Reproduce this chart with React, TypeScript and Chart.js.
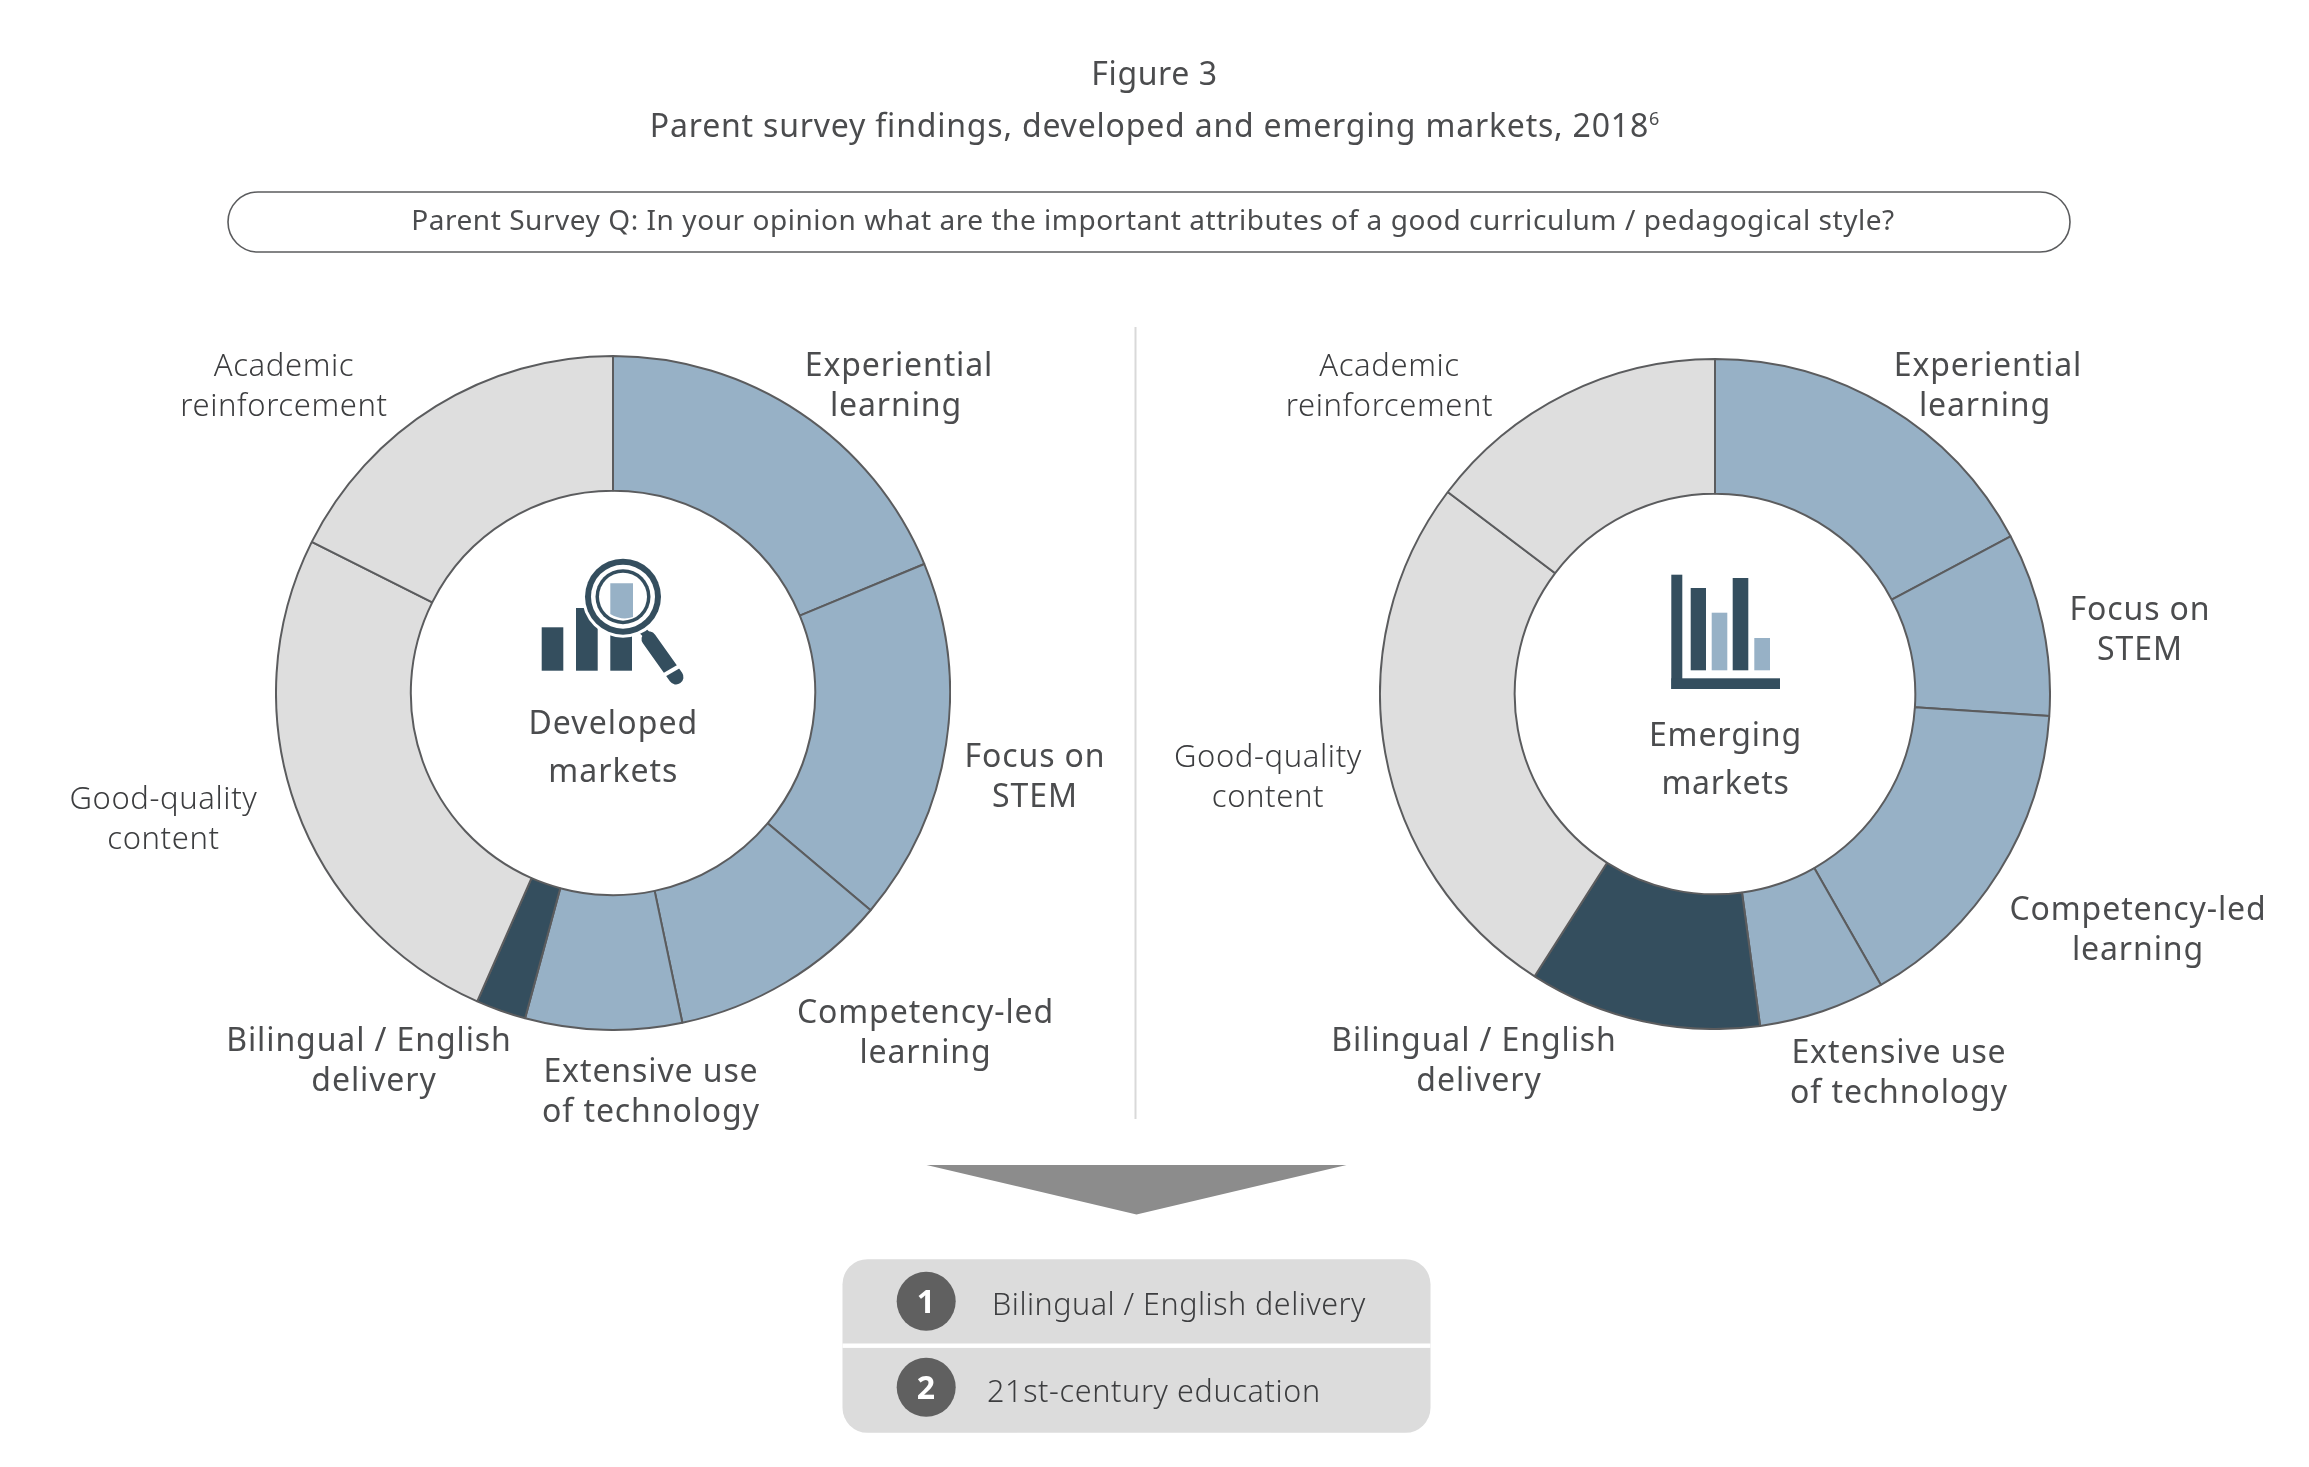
import React, { useEffect, useRef } from "react";
import { Chart, registerables } from "chart.js";

Chart.register(...registerables);

const categories = [
  "Experiential learning",
  "Focus on STEM",
  "Competency-led learning",
  "Extensive use of technology",
  "Bilingual / English delivery",
  "Good-quality content",
  "Academic reinforcement",
];
const developedValues = [18.75, 17.4, 10.55, 7.5, 2.4, 25.8, 17.6];
const emergingValues = [17.2, 8.85, 15.7, 6.1, 11.2, 26.25, 14.7];
const segmentColors = ["#97b1c6", "#97b1c6", "#97b1c6", "#97b1c6", "#344e5e", "#dedede", "#dedede"];

const categoryLines = [
  ["Experiential", "learning"],
  ["Focus on", "STEM"],
  ["Competency-led", "learning"],
  ["Extensive use", "of technology"],
  ["Bilingual / English", "delivery"],
  ["Good-quality", "content"],
  ["Academic", "reinforcement"],
];
const lightCategories = [5, 6];
// label anchor [centre x, first baseline, x shift of the second line]
const developedLabelPos = [
  [899, 375.5, -3], [1035, 766.5, 0], [925.5, 1023, 0], [651, 1082, 0], [369, 1051, 5], [163.5, 809, 0], [284, 375.5, 0],
];
const emergingLabelPos = [
  [1988, 375.5, -3], [2140, 620, 0], [2138, 919.5, 0], [1899, 1062.5, 0], [1474, 1051, 5], [1268, 766.5, 0], [1389.5, 375.5, 0],
];

const INK = "#4b4c4e";
const LIGHT_INK = "#3c3d3f";
const DARK = "#344e5e";
const BLUE = "#97b1c6";
const FONT = "'Noto Sans', 'Open Sans', sans-serif";

function Donut({ values, cx, cy, r, cutout }: { values: number[]; cx: number; cy: number; r: number; cutout: string }) {
  const ref = useRef<HTMLCanvasElement>(null);
  useEffect(() => {
    const chart = new Chart(ref.current!, {
      type: "doughnut",
      data: {
        labels: categories,
        datasets: [{ data: values, backgroundColor: segmentColors, borderColor: "#5b5c5e", borderWidth: 2 }],
      },
      options: {
        animation: false,
        responsive: false,
        cutout,
        rotation: 0,
        plugins: { legend: { display: false }, tooltip: { enabled: false } },
      },
    });
    return () => chart.destroy();
  }, []);
  const size = 2 * r + 2;
  return (
    <canvas
      ref={ref}
      width={size}
      height={size}
      style={{ position: "absolute", left: cx - r - 1, top: cy - r - 1, width: size, height: size }}
    />
  );
}

function Label({ x, y, children, size = 32, weight = 400, ls = 0.6, fill = INK, anchor = "middle" }: any) {
  return (
    <text x={x} y={y} fontSize={size} fontWeight={weight} letterSpacing={ls} fill={fill} textAnchor={anchor} fontFamily={FONT}>
      {children}
    </text>
  );
}

function CategoryLabels({ pos }: { pos: number[][] }) {
  return (
    <>
      {categoryLines.map((lines, i) =>
        lines.map((t, j) => {
          const light = lightCategories.includes(i);
          return (
            <Label
              key={`${i}-${j}`}
              x={pos[i][0] + j * pos[i][2]}
              y={pos[i][1] + j * 40}
              size={light ? 31 : 32}
              ls={light ? 0.6 : 0.9}
              weight={light ? 300 : 400}
              fill={light ? LIGHT_INK : INK}
            >
              {t}
            </Label>
          );
        })
      )}
    </>
  );
}

export default function App() {
  return (
    <div style={{ position: "absolute", left: 0, top: 0, width: 2309, height: 1467, background: "#fff", overflow: "hidden" }}>
      <Donut values={developedValues} cx={613} cy={693} r={337} cutout="60%" />
      <Donut values={emergingValues} cx={1715} cy={694} r={335} cutout="59.8%" />
      <svg width={2309} height={1467} style={{ position: "absolute", left: 0, top: 0 }}>
        <Label x={1154.5} y={85} size={32}>Figure 3</Label>
        <Label x={1155} y={137} size={32} ls={0.8}>
          Parent survey findings, developed and emerging markets, 2018
          <tspan fontSize={18} dy={-12}>6</tspan>
        </Label>
        <rect x={228} y={192} width={1842} height={60} rx={30} fill="#fff" stroke="#5b5c5e" strokeWidth={1.6} />
        <Label x={1153} y={230} size={28} ls={0.55}>
          Parent Survey Q: In your opinion what are the important attributes of a good curriculum / pedagogical style?
        </Label>
        <line x1={1135.5} y1={327} x2={1135.5} y2={1119} stroke="#d9d9d9" strokeWidth={2} />

        <CategoryLabels pos={developedLabelPos} />
        <CategoryLabels pos={emergingLabelPos} />

        {/* developed icon */}
        <g>
          <rect x={541.7} y={627.3} width={21.6} height={43.4} fill={DARK} />
          <rect x={576} y={608} width={21.7} height={62.7} fill={DARK} />
          <rect x={610.3} y={627.3} width={21.7} height={43.4} fill={DARK} />
          <line x1={638} y1={626} x2={650} y2={638} stroke={DARK} strokeWidth={8} />
          <line x1={649} y1={639} x2={676} y2={677} stroke={DARK} strokeWidth={15} strokeLinecap="round" />
          <line x1={664} y1={675} x2={683} y2={664} stroke="#fff" strokeWidth={4} />
          <circle cx={623} cy={596.7} r={41} fill="#fff" />
          <circle cx={623} cy={596.7} r={38} fill={DARK} />
          <circle cx={623} cy={596.7} r={32} fill="#fff" />
          <circle cx={623} cy={596.7} r={27.5} fill={DARK} />
          <circle cx={623} cy={596.7} r={24} fill="#fff" />
          <path d="M610.3 583.3 H633 V617 Q622 621 610.3 614 Z" fill={BLUE} />
        </g>
        <Label x={613.4} y={734} size={32} ls={1.1}>Developed</Label>
        <Label x={613.4} y={782} size={32} ls={1}>markets</Label>

        {/* emerging icon */}
        <g>
          <rect x={1671.3} y={574.7} width={11} height={114.3} fill={DARK} />
          <rect x={1671.3} y={678.3} width={108.7} height={10.7} fill={DARK} />
          <rect x={1690.7} y={588} width={15.3} height={82.3} fill={DARK} />
          <rect x={1711.7} y={612.7} width={15.6} height={57.6} fill={BLUE} />
          <rect x={1732.7} y={578} width={15.6} height={92.3} fill={DARK} />
          <rect x={1754.3} y={638} width={15.7} height={32.3} fill={BLUE} />
        </g>
        <Label x={1725.5} y={746} size={32} ls={0.9}>Emerging</Label>
        <Label x={1725.5} y={794} size={32} ls={0.7}>markets</Label>

        {/* arrow and result box */}
        <polygon points="926.5,1165 1346.5,1165 1136.5,1214.5" fill="#8c8c8c" />
        <rect x={842.5} y={1259.2} width={588} height={173.6} rx={25} fill="#dcdcdc" />
        <rect x={842.5} y={1343.5} width={588} height={4.4} fill="#fff" />
        <circle cx={926.2} cy={1301.3} r={29.5} fill="#606060" />
        <circle cx={926.2} cy={1387.3} r={29.5} fill="#606060" />
        <Label x={926} y={1313} size={32} weight={700} fill="#fff" ls={0}>1</Label>
        <Label x={926} y={1399} size={32} weight={700} fill="#fff" ls={0}>2</Label>
        <Label x={992} y={1315.2} size={30.5} weight={300} ls={0.5} fill={LIGHT_INK} anchor="start">Bilingual / English delivery</Label>
        <Label x={987} y={1401.8} size={30.5} weight={300} ls={0.65} fill={LIGHT_INK} anchor="start">21st-century education</Label>
      </svg>
    </div>
  );
}
